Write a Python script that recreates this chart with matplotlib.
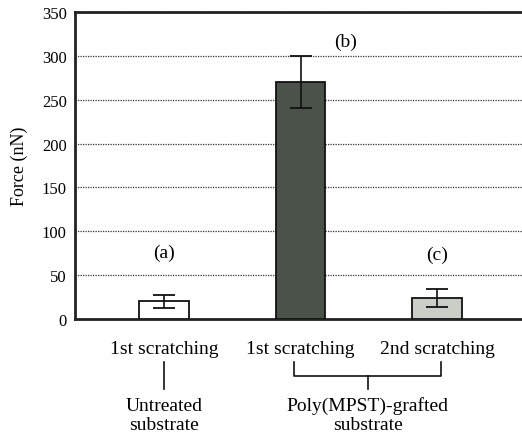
import matplotlib
matplotlib.use("Agg")
import matplotlib.pyplot as plt
from matplotlib.lines import Line2D

categories = ["1st scratching", "1st scratching", "2nd scratching"]
forces = [20, 270, 24]
errors = [7.5, 30, 10]
bar_colors = ["#ffffff", "#4b5249", "#c9cec6"]
panel_labels = ["(a)", "(b)", "(c)"]
panel_label_x = [0, 1.33, 2.0]
panel_label_y = [76, 317, 74]
groups = ["Untreated\nsubstrate", "Poly(MPST)-grafted\nsubstrate"]
yticks = [0, 50, 100, 150, 200, 250, 300, 350]

plt.rcParams['font.family'] = ['Liberation Serif', 'DejaVu Serif']

fig = plt.figure(figsize=(5.22, 4.39), dpi=100)
ax = fig.add_axes([75/522, 1-320/439, 1-75/522, 307/439])

x = [0, 1, 2]
ax.bar(x, forces, width=0.365, color=bar_colors, edgecolor="#111111", linewidth=1.3, zorder=3)
ax.errorbar(x, forces, yerr=errors, fmt="none", ecolor="#111111", elinewidth=1.2,
            capsize=8, capthick=1.3, zorder=4)

ax.set_xlim(-0.65, 2.62)
ax.set_ylim(0, 350)
ax.set_yticks(yticks)
ax.set_yticklabels([str(v) for v in yticks], fontsize=12)
ax.tick_params(axis="y", length=0, pad=6)
ax.set_xticks([])
ax.yaxis.grid(True, linestyle=(0, (1, 1)), color="#333333", linewidth=0.9, zorder=0)
ax.spines["right"].set_visible(False)
for s in ["left", "bottom", "top"]:
    ax.spines[s].set_linewidth(2)
    ax.spines[s].set_color("#222222")
ax.set_ylabel("Force (nN)", fontsize=13, labelpad=10)

for lx, ly, t in zip(panel_label_x, panel_label_y, panel_labels):
    ax.text(lx, ly, t, ha="center", va="center", fontsize=14)

tr = ax.get_xaxis_transform()
py = lambda p: (320 - p) / 307.0
for xi, c in zip(x, categories):
    ax.text(xi, py(349), c, transform=tr, ha="center", va="center", fontsize=14, clip_on=False)

# connector lines
ax.add_line(Line2D([0, 0], [py(363), py(390)], transform=tr, color="#111111", lw=1.2, clip_on=False))
ax.add_line(Line2D([0.95, 0.95, 2.03, 2.03], [py(363), py(377), py(377), py(363)], transform=tr,
                   color="#111111", lw=1.2, clip_on=False))
ax.add_line(Line2D([1.49, 1.49], [py(377), py(390)], transform=tr, color="#111111", lw=1.2, clip_on=False))

ax.text(0, py(416), groups[0], transform=tr, ha="center", va="center", fontsize=14,
        linespacing=1.15, clip_on=False)
ax.text(1.49, py(416), groups[1], transform=tr, ha="center", va="center", fontsize=14,
        linespacing=1.15, clip_on=False)

fig.savefig("out.png", dpi=100)
